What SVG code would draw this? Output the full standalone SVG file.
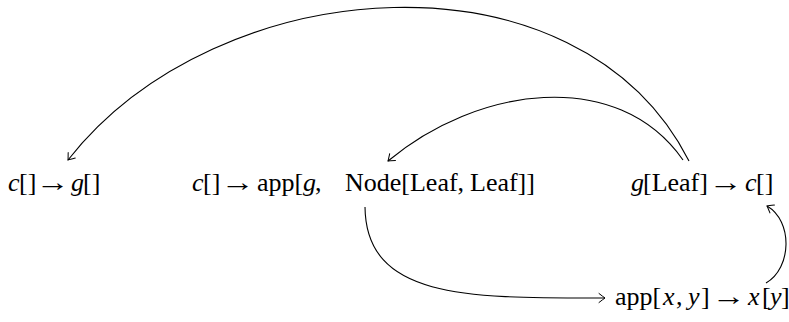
<svg xmlns="http://www.w3.org/2000/svg" width="789" height="322" viewBox="0 0 789 322">
<style>
text{font-family:'Liberation Serif','DejaVu Serif',serif;font-size:26px;fill:#000}
.i{font-style:italic}
.ar{text-anchor:middle}
.e{fill:none;stroke:#000;stroke-width:1.1}
</style>
<defs>
<marker id="to" markerUnits="userSpaceOnUse" markerWidth="12" markerHeight="12" refX="0" refY="0" viewBox="-8 -6 10 12" orient="auto" overflow="visible">
<path d="M-6,-4.5 Q-1.5,-1 0,0 Q-1.5,1 -6,4.5" fill="none" stroke="#000" stroke-width="1" stroke-linecap="round"/>
</marker>
</defs>
<rect width="789" height="322" fill="#fff"/>
<g id="n1">
<text y="191"><tspan class="i" x="8">c</tspan><tspan x="19">[]</tspan><tspan class="i" x="71">g</tspan><tspan x="83">[]</tspan></text>
<text class="ar" transform="translate(53,191) scale(1.3,1)">→</text>
</g>
<g id="n2">
<text y="191"><tspan class="i" x="192">c</tspan><tspan x="203">[]</tspan><tspan x="257">app[</tspan><tspan class="i" x="303">g</tspan><tspan x="315">,</tspan><tspan x="345">Node[Leaf,</tspan><tspan x="470">Leaf]]</tspan></text>
<text class="ar" transform="translate(238,191) scale(1.3,1)">→</text>
</g>
<g id="n3">
<text y="191"><tspan class="i" x="631">g</tspan><tspan x="643">[Leaf]</tspan><tspan class="i" x="745">c</tspan><tspan x="756">[]</tspan></text>
<text class="ar" transform="translate(726,191) scale(1.3,1)">→</text>
</g>
<g id="n4">
<text y="305"><tspan x="615">app[</tspan><tspan class="i" x="663">x</tspan><tspan x="676">,</tspan><tspan class="i" x="688">y</tspan><tspan x="701">]</tspan><tspan class="i" x="748">x</tspan><tspan x="762">[</tspan><tspan class="i" x="770">y</tspan><tspan x="781">]</tspan></text>
<text class="ar" transform="translate(729,305) scale(1.3,1)">→</text>
</g>
<g id="edges">
<path class="e" marker-end="url(#to)" d="M689,161 C579,-56 218,-31 68,160"/>
<path class="e" marker-end="url(#to)" d="M683,160 C617,66 476,87 388,161"/>
<path class="e" marker-end="url(#to)" d="M365,207 C366,300 470,298 605,298"/>
<path class="e" marker-end="url(#to)" d="M766,283 C792,268 793,221 767,206"/>
</g>
</svg>
